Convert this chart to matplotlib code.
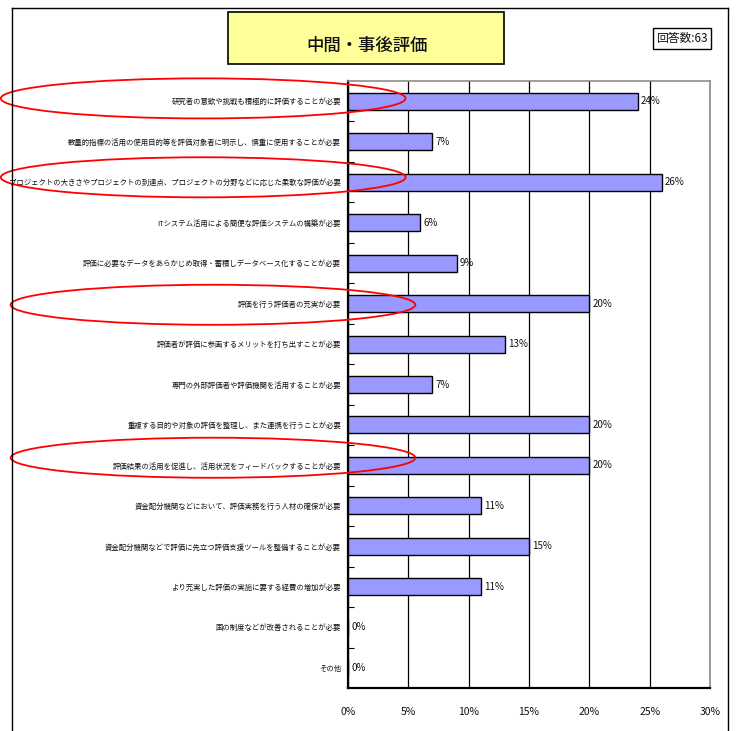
import matplotlib
matplotlib.use("Agg")
import matplotlib.pyplot as plt
import matplotlib.ticker as mticker
from matplotlib.patches import Ellipse, Rectangle
from matplotlib.lines import Line2D
from matplotlib.transforms import blended_transform_factory

plt.rcParams["font.family"] = ["Noto Sans CJK JP", "DejaVu Sans"]

# ---------------------------------------------------------------------------
# Survey answers (share of respondents, %)
# ---------------------------------------------------------------------------
TITLE = "中間・事後評価"
RESPONSES = "回答数:63"

categories = [
    "研究者の意欲や挑戦も積極的に評価することが必要",
    "数量的指標の活用の使用目的等を評価対象者に明示し、慎重に使用することが必要",
    "プロジェクトの大きさやプロジェクトの到達点、プロジェクトの分野などに応じた柔軟な評価が必要",
    "ITシステム活用による簡便な評価システムの構築が必要",
    "評価に必要なデータをあらかじめ取得・蓄積しデータベース化することが必要",
    "評価を行う評価者の充実が必要",
    "評価者が評価に参画するメリットを打ち出すことが必要",
    "専門の外部評価者や評価機関を活用することが必要",
    "重複する目的や対象の評価を整理し、また連携を行うことが必要",
    "評価結果の活用を促進し、活用状況をフィードバックすることが必要",
    "資金配分機関などにおいて、評価実務を行う人材の確保が必要",
    "資金配分機関などで評価に先立つ評価支援ツールを整備することが必要",
    "より充実した評価の実施に要する経費の増加が必要",
    "国の制度などが改善されることが必要",
    "その他",
]
values = [24, 7, 26, 6, 9, 20, 13, 7, 20, 20, 11, 15, 11, 0, 0]

# items circled in red: (category index, vertical nudge in category units)
highlighted = [(0, -0.07), (2, -0.12), (5, 0.03), (9, -0.19)]

x_ticks = [0, 5, 10, 15, 20, 25, 30]

# ---------------------------------------------------------------------------
W, H = 736, 731
fig = plt.figure(figsize=(W / 100, H / 100), dpi=100)
fig.patch.set_facecolor("white")


def fx(px):
    return px / W


def fy(py):
    return 1 - py / H


ax = fig.add_axes([fx(348), fy(688), fx(710) - fx(348), fy(81) - fy(688)])

y = list(range(len(categories)))
ax.barh(y, values, height=0.42, color="#9999FF", edgecolor="black",
        linewidth=1.0, zorder=3)

for yi, v in zip(y, values):
    ax.text(v + 0.25, yi, f"{v}%", va="center", ha="left", fontsize=7,
            color="#111111", zorder=4)

ax.set_xlim(0, 30)
ax.set_ylim(len(categories) - 0.5, -0.5)

ax.set_xticks(x_ticks)
ax.xaxis.set_major_formatter(mticker.FuncFormatter(lambda v, _: f"{v:.0f}%"))
ax.tick_params(axis="x", length=0, pad=14, labelsize=7.5, colors="#111111")
ax.grid(axis="x", color="black", linewidth=0.9, zorder=1)

ax.set_yticks(y)
ax.set_yticklabels(categories, fontsize=5.3, color="#111111")
ax.tick_params(axis="y", which="major", length=0, pad=5)
ax.set_yticks([i + 0.5 for i in y[:-1]], minor=True)
ax.tick_params(axis="y", which="minor", direction="in", length=4,
               width=0.8, color="black")

for side in ("top", "right"):
    ax.spines[side].set_color("#8c8c8c")
    ax.spines[side].set_linewidth(1.2)
for side in ("left", "bottom"):
    ax.spines[side].set_color("black")
    ax.spines[side].set_linewidth(1.6)

# red rings around the key items, x in axes fraction, y in category units
trans = blended_transform_factory(ax.transAxes, ax.transData)
for idx, dy in highlighted:
    cx = -0.40 if idx < 5 else -0.373
    ax.add_patch(Ellipse((cx, idx + dy), width=1.118, height=0.99,
                         transform=trans, fill=False, edgecolor="#ff0000",
                         linewidth=1.3, clip_on=False, zorder=5))

# outer frame (open at the bottom)
for xs, ys in (([12, 12], [8, H + 5]), ([12, 728], [8, 8]), ([728, 728], [8, H + 5])):
    fig.add_artist(Line2D([fx(v) for v in xs], [fy(v) for v in ys],
                          color="black", linewidth=1.0))

# title box
fig.add_artist(Rectangle((fx(228), fy(64)), fx(504) - fx(228), fy(12) - fy(64),
                         facecolor="#FFFF99", edgecolor="black", linewidth=1.2))
fig.text(fx(367), fy(46), TITLE, ha="center", va="center", fontsize=12.5,
         fontweight="medium", color="#111111")

# respondent count box
fig.text(fx(682), fy(38.5), RESPONSES, ha="center", va="center", fontsize=8.5,
         color="#111111",
         bbox=dict(boxstyle="square,pad=0.3", facecolor="white",
                   edgecolor="black", linewidth=1.0))

fig.savefig("out.png", dpi=100, facecolor="white")
